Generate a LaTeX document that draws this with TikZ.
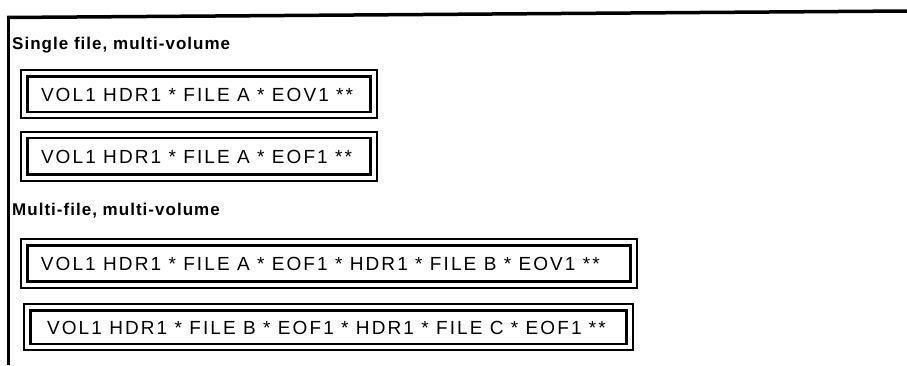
\documentclass[tikz,border=0pt]{standalone}
\usepackage{fontspec}
\setmainfont{Liberation Sans}
\newfontfamily\boxfont[LetterSpace=11]{Liberation Sans}
\newfontfamily\headfont[LetterSpace=6]{Liberation Sans Bold}
\begin{document}
\begin{tikzpicture}[x=1pt,y=-1pt,
  tapebox/.style={draw=black, line width=2.3pt, inner sep=0pt},
  outerline/.style={draw=black, line width=1.9pt},
  tapetext/.style={anchor=west, inner sep=0pt, font=\boxfont\fontsize{19}{22}\selectfont},
  heading/.style={anchor=base west, inner sep=0pt, font=\headfont\fontsize{17}{20}\selectfont}]
\useasboundingbox (0,0) rectangle (907,365);
% frame
\draw[line width=3.5pt] (7,17.5) -- (907,11);
\draw[line width=3pt] (8,16.5) -- (8,365);
% headings
\node[heading] (h1) at (12,49) {Single file, multi-volume};
\node[heading] (h2) at (12,215) {Multi-file, multi-volume};
% boxes (inner border)
\node[tapebox, minimum width=342.9pt, minimum height=35.5pt] (b1) at (199,94.25) {};
\node[tapebox, minimum width=342.9pt, minimum height=36.5pt] (b2) at (199,156.25) {};
\node[tapebox, minimum width=603pt, minimum height=36pt] (b3) at (329,263.5) {};
\node[tapebox, minimum width=596pt, minimum height=33.5pt] (b4) at (328.5,327.25) {};
% outer borders
\foreach \b in {b1,b2,b3,b4}
  \draw[outerline] ([shift={(-5,-5)}]\b.north west) rectangle ([shift={(5,5)}]\b.south east);
% texts
\node[tapetext] (t1) at ([xshift=14.4pt,yshift=-0.5pt]b1.west) {VOL1 HDR1 * FILE A * EOV1 **};
\node[tapetext] (t2) at ([xshift=14.4pt,yshift=-0.5pt]b2.west) {VOL1 HDR1 * FILE A * EOF1 **};
\node[tapetext] (t3) at ([xshift=14.4pt,yshift=-0.5pt]b3.west) {VOL1 HDR1 * FILE A * EOF1 * HDR1 * FILE B * EOV1 **};
\node[tapetext] (t4) at ([xshift=17.5pt,yshift=-0.5pt]b4.west) {VOL1 HDR1 * FILE B * EOF1 * HDR1 * FILE C * EOF1 **};
\end{tikzpicture}
\end{document}
